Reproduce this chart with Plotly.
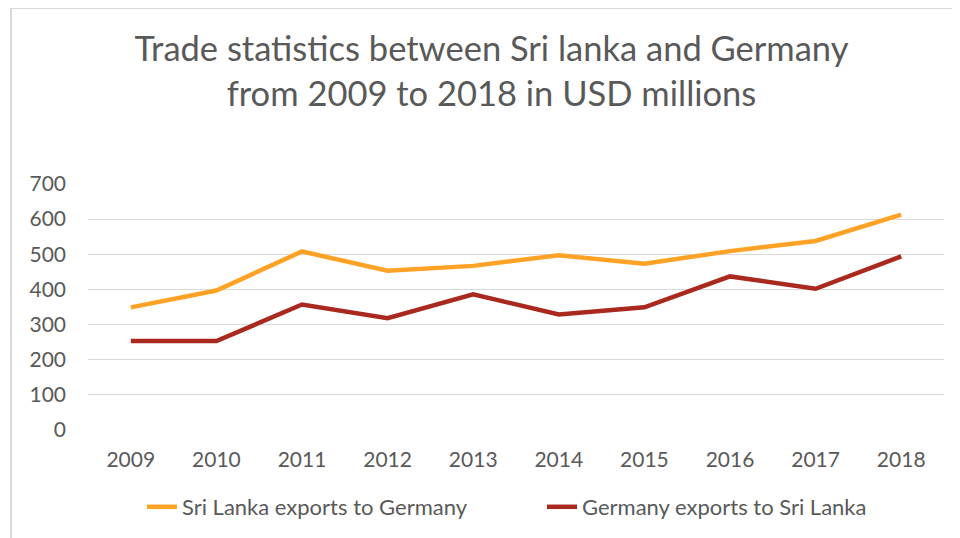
import plotly.graph_objects as go

years = ["2009", "2010", "2011", "2012", "2013", "2014", "2015", "2016", "2017", "2018"]
sl_exports = [349, 397, 508, 453, 467, 497, 473, 509, 538, 613]
de_exports = [253, 253, 357, 318, 386, 329, 349, 437, 402, 494]
y_ticks = [0, 100, 200, 300, 400, 500, 600, 700]

# the page body adds an 8px offset; the figure is sized to fill the rest of the window
OFF = 8
W, H = 960 - OFF, 538 - OFF
ML, MR, MT = 88 - OFF, 16, 184 - OFF
MB = H - (430 - OFF)
PW, PH = W - ML - MR, H - MT - MB

FONT = "Lato"
GREY = "#595959"

fig = go.Figure()
fig.add_trace(go.Scatter(x=years, y=sl_exports, mode="lines",
                         name="Sri Lanka exports to Germany",
                         line=dict(color="#FFA226", width=4.5)))
fig.add_trace(go.Scatter(x=years, y=de_exports, mode="lines",
                         name="Germany exports to Sri Lanka",
                         line=dict(color="#A9291E", width=4.5)))

def px(page_x):
    return (page_x - OFF - ML) / PW

def py(page_y):
    return (H - MB - (page_y - OFF)) / PH

# chart frame border (top and left)
fig.add_shape(type="line", xref="paper", yref="paper",
              x0=px(10), x1=px(970), y0=py(8), y1=py(8),
              line=dict(color="#D9D9D9", width=2))
fig.add_shape(type="line", xref="paper", yref="paper",
              x0=px(11), x1=px(11), y0=py(8), y1=py(545),
              line=dict(color="#D9D9D9", width=2))

fig.update_layout(
    width=W, height=H,
    margin=dict(l=ML, r=MR, t=MT, b=MB, autoexpand=False),
    paper_bgcolor="white", plot_bgcolor="white",
    font=dict(family=FONT, color=GREY, size=21),
    title=dict(text="Trade statistics between Sri lanka and Germany<br>from 2009 to 2018 in USD millions",
               x=(491.5 - OFF) / W, xref="container", xanchor="center",
               y=1 - 53 / H, yanchor="middle",
               font=dict(family=FONT, size=34.5, color=GREY)),
    xaxis=dict(type="category", range=[-0.5, 9.5], showgrid=False, showline=False,
               zeroline=False, ticks="", tickfont=dict(size=21, color=GREY),
               ticklabelstandoff=15, automargin=False),
    yaxis=dict(range=[0, 700], tickvals=y_ticks, showgrid=True, gridcolor="#D9D9D9",
               gridwidth=1, zeroline=False, showline=False, ticks="",
               tickfont=dict(size=21, color=GREY), ticklabelstandoff=21, automargin=False),
    legend=dict(orientation="h", x=px(142), xanchor="left", y=py(507), yanchor="middle",
                font=dict(size=22, color=GREY), itemwidth=30, traceorder="normal",
                entrywidth=355, tracegroupgap=0),
    showlegend=True,
)

fig.write_html("out.html")
